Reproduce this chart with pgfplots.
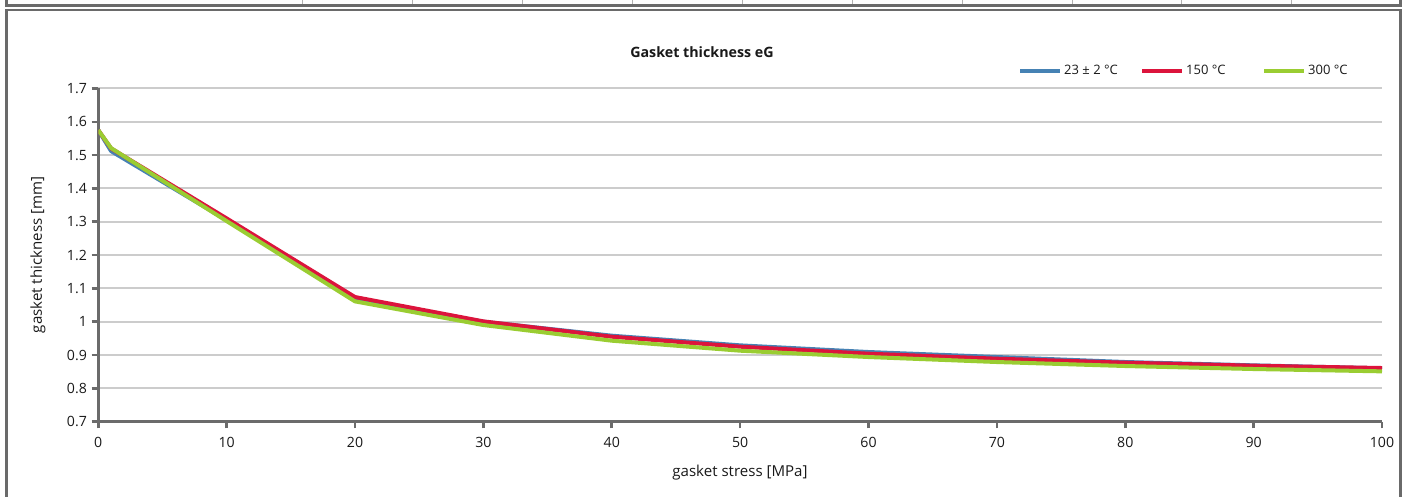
\documentclass[border=0pt]{standalone}
\usepackage{fontspec}
\setmainfont{Open Sans}
\usepackage{pgfplots}
\pgfplotsset{compat=1.18}
\definecolor{axgray}{HTML}{6B6B6B}
\definecolor{gridgray}{HTML}{CCCCCC}
\definecolor{framegray}{HTML}{6A6A6A}
\definecolor{c23}{HTML}{4682B4}
\definecolor{c150}{HTML}{DC143C}
\definecolor{c300}{HTML}{9ACD32}
\newcommand{\lbl}{\fontsize{9.75bp}{11.5bp}\selectfont}
\newcommand{\tlbl}{\fontsize{10.6bp}{12.5bp}\selectfont}
\newcommand{\albl}{\fontsize{11.3bp}{13bp}\selectfont}

\begin{document}
\begin{tikzpicture}
  % page = 1407 x 497 px, 1 px = 0.75 bp
  \useasboundingbox (0,0) rectangle (1055.25bp,372.75bp);
  \clip (0,0) rectangle (1055.25bp,372.75bp);

  % bottom of the table above
  \foreach \xx in {302,412,522,632,742,852,962,1072,1181,1291}
    \draw[gray!60, line width=0.75bp] (\xx*0.75bp,372.75bp) -- (\xx*0.75bp,369.5bp);
  \draw[framegray, line width=2bp] (4.7bp,374bp) -- (4.7bp,368.75bp) -- (1050.5bp,368.75bp) -- (1050.5bp,374bp);

  % chart frame
  \draw[framegray, line width=2bp] (4.7bp,-5bp) rectangle (1050.5bp,365.25bp);

  \begin{axis}[
    scale only axis, width=962.8bp, height=249.9bp,
    at={(73.7bp,56.5bp)}, anchor=south west,
    xmin=0, xmax=100, ymin=0.7, ymax=1.7,
    xtick={0,10,20,30,40,50,60,70,80,90,100},
    ytick={0.7,0.8,0.9,1,1.1,1.2,1.3,1.4,1.5,1.6,1.7},
    axis lines=left,
    axis line style={axgray, line width=2.2bp, -},
    tick style={axgray, line width=1.9bp},
    major tick length=5bp, tick align=outside,
    ymajorgrids, grid style={gridgray, line width=1.5bp},
    ticklabel style={font=\tlbl, text=black!90},
    xticklabel style={yshift=-3.5bp},
    /pgf/number format/assume math mode=true,
    legend columns=3,
    legend style={at={(axis description cs:0.7164,1.0525)}, anchor=west,
      draw=none, fill=none, inner sep=0pt, column sep=0pt,
      nodes={inner sep=1.5bp, font=\lbl, text=black!90}},
    legend image code/.code={\draw[#1] (0bp,0bp) -- (30bp,0bp);},
    every axis plot/.append style={line width=3bp, line join=round},
  ]
    \addplot[c23] coordinates {
      (0,1.575) (1,1.512) (10,1.305) (20,1.068) (30,1.000) (40,0.958)
      (50,0.929) (60,0.909) (70,0.894) (80,0.879) (90,0.869) (100,0.860)};
    \addlegendentry{\makebox[55.5bp][l]{23 ± 2 °C}}
    \addplot[c150] coordinates {
      (0,1.575) (1,1.520) (10,1.310) (20,1.074) (30,1.001) (40,0.955)
      (50,0.925) (60,0.904) (70,0.889) (80,0.877) (90,0.868) (100,0.861)};
    \addlegendentry{\makebox[55.5bp][l]{150 °C}}
    \addplot[c300] coordinates {
      (0,1.575) (1,1.521) (10,1.302) (20,1.061) (30,0.990) (40,0.943)
      (50,0.913) (60,0.894) (70,0.879) (80,0.867) (90,0.858) (100,0.851)};
    \addlegendentry{300 °C}
  \end{axis}

  \node[font=\fontsize{10.7bp}{12.5bp}\selectfont\bfseries, text=black!90] at (526.5bp,333.75bp) {Gasket thickness eG};
  \node[font=\albl, text=black!90, rotate=90] at (28.5bp,181.5bp) {gasket thickness [mm]};
  \node[font=\albl, text=black!90] at (555bp,18bp) {gasket stress [MPa]};
\end{tikzpicture}
\end{document}
